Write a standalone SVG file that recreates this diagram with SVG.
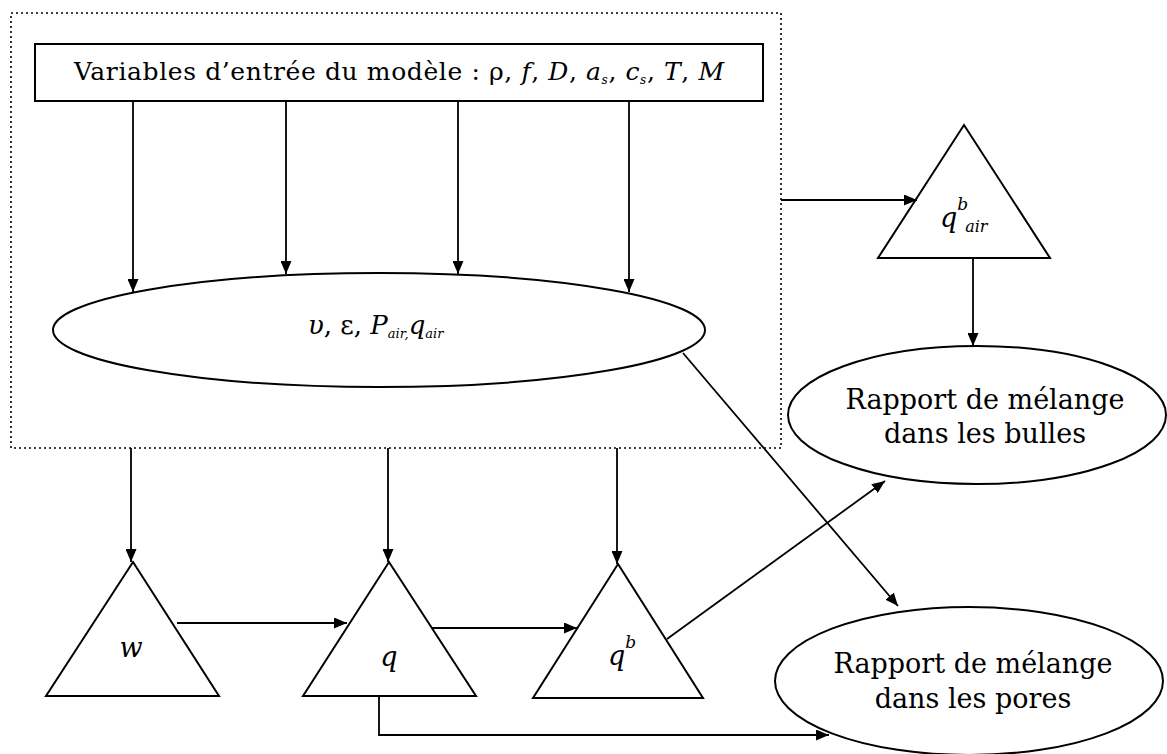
<svg xmlns="http://www.w3.org/2000/svg" width="1167" height="754" viewBox="0 0 1167 754">
<style>
.shape{fill:#fff;stroke:#000;stroke-width:2}
.box{fill:none;stroke:#000;stroke-width:1.6;stroke-dasharray:2 3}
.conn{fill:none;stroke:#000;stroke-width:1.8}
.t{font-family:"DejaVu Serif","Liberation Serif",serif;fill:#000}
.i{font-style:italic}
</style>
<defs>
<marker id="ah" viewBox="0 0 13 11" refX="13" refY="5.5" markerWidth="13" markerHeight="11" markerUnits="userSpaceOnUse" orient="auto">
<path d="M0,0 L13,5.5 L0,11 Z" fill="#000"/>
</marker>
</defs>
<rect class="box" x="11" y="13" width="770" height="435"/>
<g id="inputs">
<rect class="shape" x="35" y="44" width="728" height="57"/>
<text class="t" x="74" y="80" font-size="25" textLength="650" lengthAdjust="spacing">Variables d’entrée du modèle : ρ, <tspan class="i">f</tspan>, <tspan class="i">D</tspan>, <tspan class="i">a</tspan><tspan class="i" font-size="12" dy="4">s</tspan><tspan dy="-4">, </tspan><tspan class="i">c</tspan><tspan class="i" font-size="12" dy="4">s</tspan><tspan dy="-4">, </tspan><tspan class="i">T</tspan>, <tspan class="i">M</tspan></text>
</g>
<g id="params">
<ellipse class="shape" cx="379" cy="330" rx="326" ry="57"/>
<text class="t" x="308" y="334" font-size="26"><tspan class="i">υ</tspan>, ε, <tspan class="i">P</tspan><tspan class="i" font-size="13" dy="4">air,</tspan><tspan class="i" dy="-4">q</tspan><tspan class="i" font-size="13" dy="4">air</tspan></text>
</g>
<g id="qbair">
<polygon class="shape" points="964,125 1050,258 878,258"/>
<text class="t i" x="940" y="227" font-size="27">q<tspan font-size="17" dy="-17">b</tspan><tspan font-size="16" dx="-3" dy="22">air</tspan></text>
</g>
<g id="bulles">
<ellipse class="shape" cx="977" cy="415" rx="189" ry="69"/>
<text class="t" x="985" y="409" font-size="27" text-anchor="middle">Rapport de mélange</text>
<text class="t" x="985" y="443" font-size="27" text-anchor="middle">dans les bulles</text>
</g>
<g id="pores">
<ellipse class="shape" cx="969" cy="681" rx="194" ry="74"/>
<text class="t" x="973" y="673" font-size="27" text-anchor="middle">Rapport de mélange</text>
<text class="t" x="973" y="708" font-size="27" text-anchor="middle">dans les pores</text>
</g>
<g id="w">
<polygon class="shape" points="133,562 219,696 46,696"/>
<text class="t i" x="131" y="657" font-size="27" text-anchor="middle">w</text>
</g>
<g id="q">
<polygon class="shape" points="389,562 476,696 303,696"/>
<text class="t i" x="389" y="666" font-size="27" text-anchor="middle">q</text>
</g>
<g id="qb">
<polygon class="shape" points="618,564 703,698 533,698"/>
<text class="t i" x="608" y="665" font-size="27">q<tspan font-size="17" dy="-17">b</tspan></text>
</g>
<g id="connectors">
<path class="conn" d="M133,101 V292" marker-end="url(#ah)"/>
<path class="conn" d="M286,101 V274" marker-end="url(#ah)"/>
<path class="conn" d="M458,101 V274" marker-end="url(#ah)"/>
<path class="conn" d="M629,101 V292" marker-end="url(#ah)"/>
<path class="conn" d="M781,200 H917" marker-end="url(#ah)"/>
<path class="conn" d="M973,258 V346" marker-end="url(#ah)"/>
<path class="conn" d="M683,353 L898,606" marker-end="url(#ah)"/>
<path class="conn" d="M667,639 L885,481" marker-end="url(#ah)"/>
<path class="conn" d="M131,448 V562" marker-end="url(#ah)"/>
<path class="conn" d="M388,448 V562" marker-end="url(#ah)"/>
<path class="conn" d="M617,448 V564" marker-end="url(#ah)"/>
<path class="conn" d="M177,623 H347" marker-end="url(#ah)"/>
<path class="conn" d="M432,628 H577" marker-end="url(#ah)"/>
<path class="conn" d="M379,696 V735 H829" marker-end="url(#ah)"/>
</g>
</svg>
